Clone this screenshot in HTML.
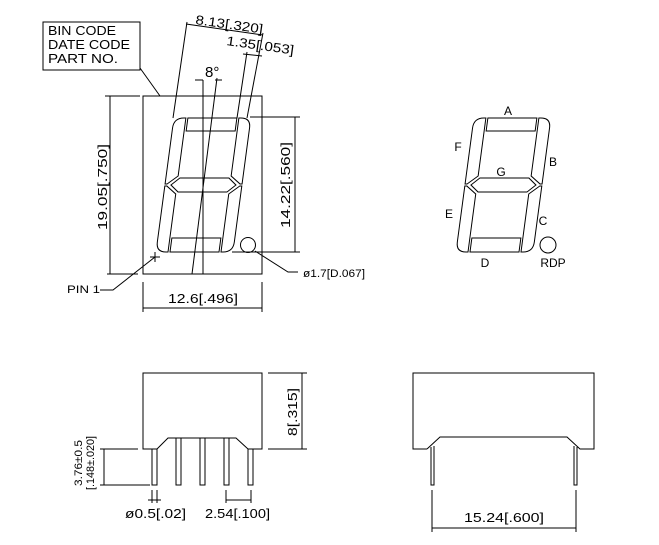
<!DOCTYPE html>
<html><head><meta charset="utf-8"><style>
html,body{margin:0;padding:0;background:#fff}
svg{display:block}
text{font-family:"Liberation Sans",sans-serif;fill:#000}
</style></head><body>
<svg width="659" height="545" viewBox="0 0 659 545" xmlns="http://www.w3.org/2000/svg">
<defs>
<g id="digit" fill="#fff" stroke="#000" stroke-width="1">
  <rect x="470" y="118" width="49" height="13"/>
  <path d="M468,118 L468,176 L458,184 L456,184 L456,128 Q456,118 466,118 Z"/>
  <path d="M468,252 L468,194 L458,186 L456,186 L456,242 Q456,252 466,252 Z"/>
  <path d="M521,118 L521,176 L531,184 L533,184 L533,128 Q533,118 523,118 Z"/>
  <path d="M521,252 L521,194 L531,186 L533,186 L533,242 Q533,252 523,252 Z"/>
  <polygon points="470,178 519,178 527,185 519,192 470,192 462,185"/>
  <rect x="470" y="238" width="49" height="14"/>
</g>
</defs>
<g stroke="#000" stroke-width="1" fill="none">
<!-- BIN box -->
<rect x="43" y="22" width="97" height="48"/>
<line x1="140" y1="68" x2="160" y2="96"/>
<!-- body -->
<rect x="143" y="96" width="119" height="178"/>
</g>
<text x="48" y="35" font-size="12.5" textLength="68" lengthAdjust="spacingAndGlyphs">BIN CODE</text>
<text x="48" y="49" font-size="12.5" textLength="82" lengthAdjust="spacingAndGlyphs">DATE CODE</text>
<text x="48" y="63" font-size="12.5" textLength="70" lengthAdjust="spacingAndGlyphs">PART NO.</text>
<!-- left digit -->
<g transform="translate(-300,0) translate(0,252) skewX(-7.6) translate(0,-252)"><use href="#digit"/></g>
<g transform="translate(0,252) skewX(-7.6) translate(0,-252)"><use href="#digit"/></g>
<g stroke="#000" stroke-width="1" fill="none">
<circle cx="248" cy="245" r="7.5"/>
<circle cx="548" cy="245" r="8"/>
<!-- center lines -->
<line x1="203" y1="80" x2="203" y2="274"/>
<line x1="217" y1="78" x2="192" y2="274"/>
<!-- 8 deg ticks -->
<line x1="195" y1="80" x2="203" y2="80"/>
<line x1="215" y1="80" x2="222" y2="80"/>
<!-- 8.13 dim -->
<line x1="186" y1="24" x2="263" y2="35"/>
<line x1="187" y1="22" x2="173" y2="118"/>
<line x1="263" y1="33" x2="247" y2="118"/>
<line x1="247" y1="52" x2="237" y2="118"/>
<line x1="243" y1="54" x2="262" y2="56"/>
<!-- 19.05 dim -->
<line x1="110" y1="96" x2="110" y2="274"/>
<line x1="105" y1="96" x2="140" y2="96"/>
<line x1="107" y1="274" x2="138" y2="274"/>
<!-- 14.22 dim -->
<line x1="295" y1="117" x2="295" y2="252"/>
<line x1="250" y1="117" x2="300" y2="117"/>
<line x1="232" y1="252" x2="300" y2="252"/>
<!-- 12.6 dim -->
<line x1="143" y1="282" x2="143" y2="312"/>
<line x1="262" y1="282" x2="262" y2="312"/>
<line x1="143" y1="308" x2="262" y2="308"/>
<!-- pin1 -->
<line x1="150" y1="257" x2="160" y2="257"/>
<line x1="155" y1="252" x2="155" y2="262"/>
<polyline points="100,290 113,290 155,257"/>
<!-- dp leader -->
<polyline points="255,251 288,272 298,272"/>
</g>
<text font-size="13" transform="translate(195,24) rotate(8)" textLength="68" lengthAdjust="spacingAndGlyphs">8.13[.320]</text>
<text font-size="13" transform="translate(226,45) rotate(8)" textLength="68" lengthAdjust="spacingAndGlyphs">1.35[.053]</text>
<text font-size="15" x="205" y="77">8°</text>
<text font-size="13" transform="translate(107,187) rotate(-90)" text-anchor="middle" textLength="86" lengthAdjust="spacingAndGlyphs">19.05[.750]</text>
<text font-size="13" transform="translate(290,185) rotate(-90)" text-anchor="middle" textLength="86" lengthAdjust="spacingAndGlyphs">14.22[.560]</text>
<text font-size="13" x="168" y="303" textLength="70" lengthAdjust="spacingAndGlyphs">12.6[.496]</text>
<text font-size="11" x="67" y="293" textLength="33" lengthAdjust="spacingAndGlyphs">PIN 1</text>
<text font-size="11" x="303" y="277" textLength="62" lengthAdjust="spacingAndGlyphs">ø1.7[D.067]</text>
<!-- right digit labels -->
<g font-size="12" text-anchor="middle">
<text x="508" y="115">A</text><text x="458" y="151">F</text><text x="553" y="166">B</text>
<text x="501" y="176">G</text><text x="449" y="218">E</text><text x="543" y="225">C</text>
<text x="485" y="267">D</text><text x="553" y="267">RDP</text>
</g>
<!-- bottom left side view -->
<g stroke="#000" stroke-width="1" fill="none">
<polyline points="157,449 143,449 143,373 262,373 262,449 248,449 236,438 168,438 157,449"/>
<polyline points="152,449 152,485 157,485 157,449"/>
<rect x="176" y="438" width="5" height="47"/>
<rect x="200" y="438" width="5" height="47"/>
<rect x="224" y="438" width="5" height="47"/>
<polyline points="248,449 248,485 253,485 253,449"/>
<line x1="268" y1="373" x2="307" y2="373"/>
<line x1="268" y1="449" x2="307" y2="449"/>
<line x1="302" y1="373" x2="302" y2="449"/>
<line x1="104" y1="449" x2="104" y2="485"/>
<line x1="100" y1="449" x2="138" y2="449"/>
<line x1="100" y1="485" x2="150" y2="485"/>
<line x1="152" y1="490" x2="152" y2="503"/>
<line x1="157" y1="490" x2="157" y2="503"/>
<line x1="148" y1="500" x2="161" y2="500"/>
<line x1="226" y1="490" x2="226" y2="503"/>
<line x1="251" y1="490" x2="251" y2="503"/>
<line x1="226" y1="500" x2="251" y2="500"/>
<!-- bottom right -->
<polyline points="427,449 413,449 413,373 594,373 594,449 580,449 567,437 440,437 427,449"/>
<polyline points="431,447 431,485 434,485 434,446"/>
<polyline points="574,446 574,485 577,485 577,447"/>
<line x1="432" y1="490" x2="432" y2="532"/>
<line x1="576" y1="490" x2="576" y2="532"/>
<line x1="432" y1="528" x2="576" y2="528"/>
</g>
<text font-size="13" transform="translate(297,412) rotate(-90)" text-anchor="middle" textLength="48" lengthAdjust="spacingAndGlyphs">8[.315]</text>
<text font-size="11" transform="translate(82,463) rotate(-90)" text-anchor="middle" textLength="46" lengthAdjust="spacingAndGlyphs">3.76±0.5</text>
<text font-size="11" transform="translate(94,463) rotate(-90)" text-anchor="middle" textLength="54" lengthAdjust="spacingAndGlyphs">[.148±.020]</text>
<text font-size="13" x="125" y="518" textLength="61" lengthAdjust="spacingAndGlyphs">ø0.5[.02]</text>
<text font-size="13" x="205" y="518" textLength="65" lengthAdjust="spacingAndGlyphs">2.54[.100]</text>
<text font-size="13" x="464" y="522" textLength="80" lengthAdjust="spacingAndGlyphs">15.24[.600]</text>
</svg>
</body></html>
